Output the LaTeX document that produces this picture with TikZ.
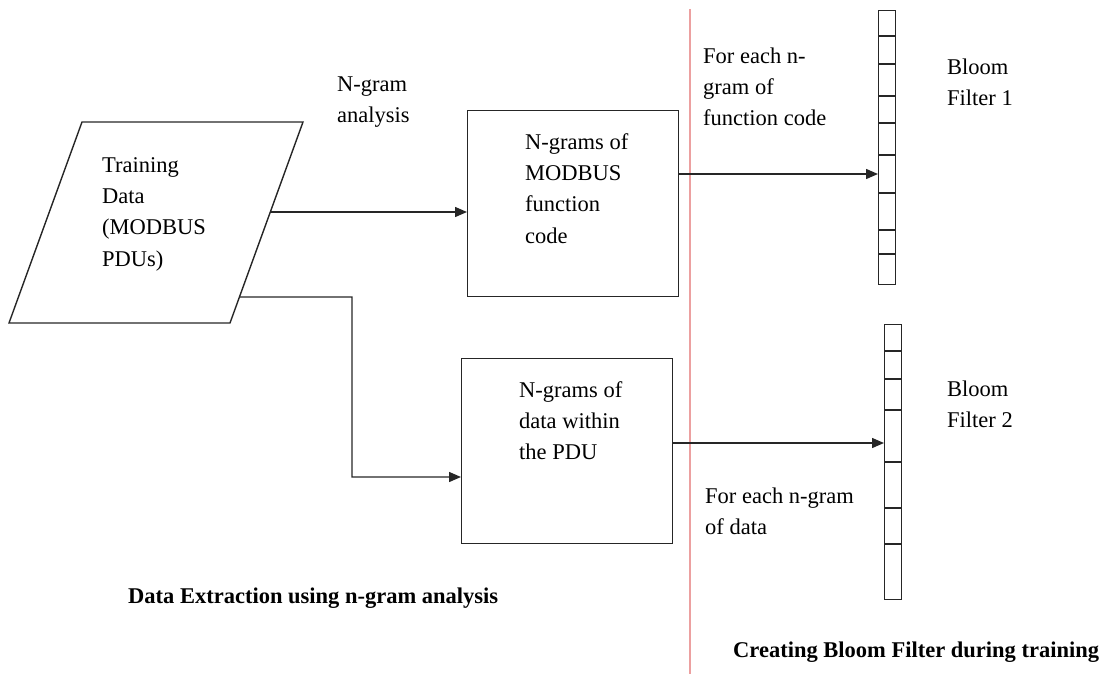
\documentclass[tikz,border=0pt]{standalone}
\usepackage{fontspec}
\setmainfont{Liberation Serif}
\usetikzlibrary{arrows.meta,calc}
% strut that fixes the height of a first text line, so node tops sit a known distance above the baseline
\newcommand{\topstrut}{\rule{0pt}{18pt}}
\begin{document}
\begin{tikzpicture}[x=1pt,y=-1pt,
  line/.style={line width=1.4pt, draw=black!85},
  arr/.style={line, -{Triangle[length=12pt,width=10pt]}},
  box/.style={line, rectangle, inner sep=0pt, anchor=north west},
  cell/.style={line width=1.2pt, draw=black!85},
  txt/.style={anchor=north west, inner sep=0pt, align=left, font=\fontsize{22.5}{31.3}\selectfont},
  captiontxt/.style={txt, font=\fontsize{22.5}{31.3}\selectfont\bfseries},
  divider/.style={line width=1.1pt, draw={rgb,255:red,236;green,160;blue,160}}]
\useasboundingbox (0,0) rectangle (1105,674);

% separator between the two stages
\draw[divider] (690,9) -- (690,674);

% input data (parallelogram)
\coordinate (pTL) at (82,122);
\coordinate (pTR) at (303,122);
\coordinate (pBR) at (230,323);
\coordinate (pBL) at (9,323);
\draw[line] (pTL) -- (pTR) -- (pBR) -- (pBL) -- cycle;
\coordinate (out1) at ($(pTR)!0.4478!(pBR)$);
\coordinate (out2) at ($(pTR)!0.8706!(pBR)$);
\node[txt] (train) at (102,154) {\topstrut Training\\Data\\(MODBUS\\PDUs)};

% n-gram boxes
\node[box, minimum width=211pt, minimum height=186pt] (fc) at (467,110) {};
\node[txt] (fctxt) at (525,131) {\topstrut N-grams of\\MODBUS\\function\\code};
\node[box, minimum width=211pt, minimum height=185pt] (pdu) at (461,358) {};
\node[txt] (pdutxt) at (519,379) {\topstrut N-grams of\\data within\\the PDU};

\node[txt] (nga) at (337,73) {\topstrut N-gram\\analysis};

% bloom filter 1
\node[box, minimum width=17pt, minimum height=274pt] (bf1) at (878,10) {};
\foreach \yy in {36,64,96,123,155,193,230,254}
  \draw[cell] (bf1.west |- 0,\yy) -- (bf1.east |- 0,\yy);
\node[txt] (bf1txt) at (947,56) {\topstrut Bloom\\Filter 1};

% bloom filter 2
\node[box, minimum width=17pt, minimum height=275pt] (bf2) at (884,324) {};
\foreach \yy in {351,379,410,462,508,544}
  \draw[cell] (bf2.west |- 0,\yy) -- (bf2.east |- 0,\yy);
\node[txt] (bf2txt) at (947,378) {\topstrut Bloom\\Filter 2};

% edge labels
\node[txt] (lab1) at (703,45) {\topstrut For each n-\\gram of\\function code};
\node[txt] (lab2) at (705,485) {\topstrut For each n-gram\\of data};

% connectors
\coordinate (h1) at (0,174);
\coordinate (h2) at (0,443);
\coordinate (bend) at (352,297);
\coordinate (h3) at (0,477);
\draw[arr] (out1) -- (fc.west |- out1);
\draw[arr] (out2) -- (bend) |- (pdu.west |- h3);
\draw[arr] (fc.east |- h1) -- (bf1.west |- h1);
\draw[arr] (pdu.east |- h2) -- (bf2.west |- h2);

% stage captions
\node[captiontxt] (cap1) at (128,585) {\topstrut Data Extraction using n-gram analysis};
\node[captiontxt] (cap2) at (733,639) {\topstrut Creating Bloom Filter during training};
\end{tikzpicture}
\end{document}
